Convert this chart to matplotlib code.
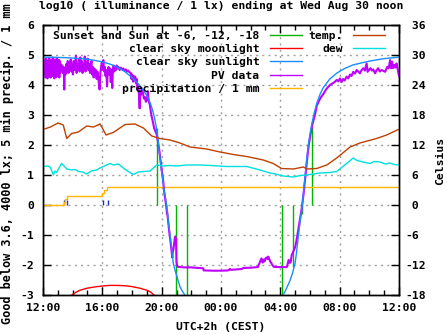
import matplotlib
matplotlib.use('Agg')
import matplotlib.pyplot as plt
from matplotlib.lines import Line2D
from matplotlib.ticker import MultipleLocator, FuncFormatter

# gnuplot-like bold monospace look
plt.rcParams['font.family'] = 'DejaVu Sans Mono'
plt.rcParams['font.weight'] = 'bold'
plt.rcParams['font.size'] = 8.2
plt.rcParams['axes.unicode_minus'] = False

# Axis ticks (hours after midnight of the first day)
tick_hours = [12, 16, 20, 24, 28, 32, 36]
tick_labels = ['12:00', '16:00', '20:00', '00:00', '04:00', '08:00', '12:00']
celsius_ticks = [-18, -12, -6, 0, 6, 12, 18, 24, 30, 36]

# PV data, log10(lx)
pv_data = [
    ('12:00', 4.70), ('12:02', 4.35), ('12:04', 4.85), ('12:06', 4.30), ('12:08', 4.80),
    ('12:10', 4.25), ('12:12', 4.88), ('12:14', 4.40), ('12:16', 4.75), ('12:18', 4.22),
    ('12:20', 4.82), ('12:22', 4.30), ('12:24', 4.90), ('12:26', 4.35), ('12:28', 4.78),
    ('12:30', 4.25), ('12:32', 4.85), ('12:34', 4.28), ('12:36', 4.80), ('12:38', 4.40),
    ('12:40', 4.92), ('12:42', 4.30), ('12:44', 4.75), ('12:46', 4.22), ('12:48', 4.85),
    ('12:50', 4.33), ('12:52', 4.80), ('12:54', 4.26), ('12:56', 4.88), ('12:58', 4.35),
    ('13:00', 4.78), ('13:02', 4.30), ('13:04', 4.84), ('13:06', 4.25), ('13:08', 4.80),
    ('13:10', 4.40), ('13:12', 4.70), ('13:15', 4.55), ('13:18', 4.65), ('13:21', 4.40),
    ('13:24', 4.60), ('13:26', 3.85), ('13:28', 4.50), ('13:31', 4.35), ('13:34', 4.70),
    ('13:37', 4.45), ('13:40', 4.80), ('13:43', 4.40), ('13:46', 4.75), ('13:49', 4.55),
    ('13:52', 4.85), ('13:55', 4.45), ('13:58', 4.70), ('14:01', 4.35), ('14:04', 4.80),
    ('14:07', 4.50), ('14:10', 4.75), ('14:13', 4.98), ('14:16', 4.40), ('14:19', 4.70),
    ('14:22', 4.55), ('14:25', 4.85), ('14:28', 4.45), ('14:31', 4.92), ('14:34', 4.50),
    ('14:37', 4.80), ('14:40', 4.40), ('14:43', 4.70), ('14:46', 4.55), ('14:49', 4.95),
    ('14:52', 4.45), ('14:55', 4.75), ('14:58', 4.60), ('15:01', 4.88), ('15:04', 4.50),
    ('15:07', 4.70), ('15:10', 4.40), ('15:13', 4.65), ('15:16', 4.80), ('15:19', 4.35),
    ('15:22', 4.60), ('15:25', 4.25), ('15:28', 4.55), ('15:31', 4.30), ('15:34', 4.50),
    ('15:37', 4.20), ('15:40', 4.45), ('15:43', 4.30), ('15:46', 4.05), ('15:49', 3.85),
    ('15:52', 4.40), ('15:55', 4.60), ('15:58', 4.75), ('16:01', 4.50), ('16:04', 4.83),
    ('16:07', 4.45), ('16:10', 4.60), ('16:13', 4.30), ('16:16', 4.50), ('16:19', 3.95),
    ('16:22', 4.45), ('16:25', 4.60), ('16:28', 4.35), ('16:31', 4.55), ('16:34', 4.10),
    ('16:37', 4.50), ('16:40', 3.90), ('16:43', 4.55), ('16:46', 4.65), ('16:49', 4.45),
    ('16:52', 4.60), ('16:55', 4.50), ('16:58', 4.65), ('17:01', 4.55), ('17:05', 4.60),
    ('17:10', 4.50), ('17:15', 4.58), ('17:20', 4.52), ('17:25', 4.55), ('17:30', 4.48),
    ('17:35', 4.52), ('17:40', 4.45), ('17:45', 4.48), ('17:50', 4.42), ('17:55', 4.40),
    ('17:58', 4.20), ('18:01', 4.35), ('18:04', 4.11), ('18:07', 4.30), ('18:10', 4.15),
    ('18:13', 4.28), ('18:16', 4.05), ('18:19', 4.20), ('18:22', 3.85), ('18:25', 3.95),
    ('18:28', 3.70), ('18:31', 3.22), ('18:33', 3.80), ('18:36', 3.67), ('18:40', 3.89),
    ('18:44', 3.75), ('18:48', 3.55), ('18:52', 3.60), ('18:56', 3.44), ('19:00', 3.50),
    ('19:04', 3.78), ('19:08', 3.44), ('19:12', 3.35), ('19:16', 3.11), ('19:20', 2.94),
    ('19:25', 2.75), ('19:30', 2.55), ('19:35', 2.45), ('19:40', 2.35), ('19:45', 2.10),
    ('19:50', 1.85), ('19:55', 1.50), ('20:00', 1.17), ('20:04', 0.95), ('20:07', 0.73),
    ('20:10', 0.45), ('20:13', 0.28), ('20:17', 0.05), ('20:20', -0.10), ('20:24', -0.35),
    ('20:27', -0.60), ('20:30', -0.85), ('20:34', -1.10), ('20:38', -1.40), ('20:41', -1.60),
    ('20:43', -1.75), ('20:45', -1.55), ('20:47', -1.50), ('20:50', -1.30), ('20:54', -1.06),
    ('20:58', -1.10), ('21:00', -1.90), ('21:02', -2.00), ('21:05', -2.06), ('21:30', -2.08),
    ('22:00', -2.08), ('22:30', -2.10), ('22:48', -2.11), ('22:50', -2.18), ('23:30', -2.19),
    ('00:00', -2.19), ('00:30', -2.18), ('00:36', -2.13), ('00:40', -2.16), ('01:00', -2.15),
    ('01:25', -2.13), ('01:30', -2.10), ('02:00', -2.09), ('02:29', -2.07), ('02:35', -1.95),
    ('02:40', -1.85), ('02:44', -1.78), ('02:48', -1.92), ('02:52', -1.82), ('02:56', -1.88),
    ('03:00', -1.78), ('03:04', -1.75), ('03:08', -1.80), ('03:11', -1.72), ('03:15', -1.80),
    ('03:19', -1.88), ('03:23', -1.93), ('03:28', -2.00), ('03:33', -2.06), ('04:00', -2.07),
    ('04:26', -2.07), ('04:30', -1.95), ('04:34', -1.83), ('04:38', -1.93), ('04:42', -1.90),
    ('04:46', -1.67), ('04:50', -1.60), ('04:55', -1.50), ('05:00', -1.40), ('05:05', -1.20),
    ('05:10', -0.95), ('05:15', -0.70), ('05:20', -0.45), ('05:25', -0.20), ('05:30', 0.10),
    ('05:35', 0.45), ('05:40', 0.85), ('05:45', 1.25), ('05:50', 1.65), ('05:55', 2.00),
    ('06:00', 2.25), ('06:05', 2.50), ('06:10', 2.70), ('06:15', 2.85), ('06:20', 3.00),
    ('06:27', 3.30), ('06:35', 3.45), ('06:45', 3.60), ('06:54', 3.70), ('07:05', 3.85),
    ('07:15', 3.95), ('07:21', 4.00), ('07:30', 4.05), ('07:40', 4.10), ('07:48', 4.17),
    ('07:55', 4.12), ('08:01', 4.22), ('08:08', 4.10), ('08:14', 4.20), ('08:20', 4.15),
    ('08:28', 4.28), ('08:35', 4.22), ('08:42', 4.35), ('08:48', 4.30), ('08:55', 4.44),
    ('09:02', 4.38), ('09:09', 4.50), ('09:15', 4.45), ('09:22', 4.39), ('09:29', 4.50),
    ('09:36', 4.56), ('09:42', 4.48), ('09:49', 4.72), ('09:53', 4.44), ('10:00', 4.52),
    ('10:05', 4.56), ('10:10', 4.48), ('10:16', 4.52), ('10:23', 4.39), ('10:30', 4.50),
    ('10:36', 4.56), ('10:42', 4.45), ('10:50', 4.50), ('10:57', 4.47), ('11:04', 4.44),
    ('11:08', 4.52), ('11:13', 4.61), ('11:18', 4.55), ('11:24', 4.83), ('11:28', 4.56),
    ('11:32', 4.78), ('11:36', 4.56), ('11:41', 4.67), ('11:45', 4.58), ('11:50', 4.72),
    ('11:55', 4.50), ('12:00', 4.30),
]

# clear sky sunlight model, log10(lx)
sun_data = [
    ('12:00', 4.93), ('13:00', 4.92), ('14:00', 4.90), ('15:00', 4.86), ('15:30', 4.82),
    ('16:00', 4.77), ('16:30', 4.70), ('17:00', 4.60), ('17:30', 4.45), ('18:00', 4.25),
    ('18:15', 4.13), ('18:30', 4.00), ('18:45', 3.83), ('19:00', 3.65), ('19:10', 3.48),
    ('19:20', 3.25), ('19:30', 2.95), ('19:38', 2.60), ('19:45', 2.20), ('19:52', 1.65),
    ('20:00', 1.10), ('20:10', 0.50), ('20:20', 0.00), ('20:30', -0.75), ('20:40', -1.45),
    ('20:47', -1.94), ('20:55', -2.20), ('21:05', -2.48), ('21:14', -2.72), ('21:24', -2.88),
    ('21:34', -3.00), ('21:45', -3.20),
    ('04:00', -3.20), ('04:12', -3.00), ('04:25', -2.78), ('04:40', -2.50), ('04:50', -2.25),
    ('05:00', -1.93), ('05:06', -1.55), ('05:12', -1.10), ('05:20', -0.55), ('05:28', -0.07),
    ('05:34', 0.45), ('05:40', 0.93), ('05:46', 1.45), ('05:52', 1.93), ('06:00', 2.35),
    ('06:08', 2.73), ('06:18', 3.10), ('06:28', 3.40), ('06:40', 3.68), ('06:53', 3.90),
    ('07:20', 4.20), ('07:49', 4.40), ('08:20', 4.55), ('08:54', 4.67), ('09:30', 4.74),
    ('10:03', 4.80), ('11:00', 4.88), ('12:00', 4.93),
]

# clear sky moonlight model, log10(lx)
moon_data = [
    ('13:57', -3.00), ('14:15', -2.90), ('14:30', -2.84), ('15:00', -2.77), ('15:30', -2.73),
    ('16:00', -2.70), ('16:30', -2.68), ('17:00', -2.68), ('17:30', -2.69), ('18:00', -2.72),
    ('18:30', -2.77), ('19:00', -2.84), ('19:15', -2.90), ('19:29', -3.00),
]

# sunset / sunrise and sun at -6, -12, -18 degrees: (time, line end)
sun_events = [
    ('19:43', 2.57), ('20:19', -0.3), ('20:57', -3.0), ('21:44', -3.0),
    ('04:07', -3.0), ('04:53', -2.06), ('05:27', -0.3), ('06:07', 2.60),
]

# cumulative precipitation / 1 mm
precip_data = [
    ('12:00', 0.0), ('13:22', 0.0), ('13:25', 0.1), ('13:30', 0.2), ('13:36', 0.3),
    ('15:51', 0.3), ('15:58', 0.4), ('16:05', 0.5), ('16:19', 0.6), ('12:00', 0.6),
]

# 5 min precipitation bars
rain5_data = [('13:25', 0.17), ('13:38', 0.17), ('16:04', 0.17), ('16:24', 0.17)]

# temperature and dew point, Celsius
temp_data = [
    ('12:00', 15.1), ('12:30', 15.6), ('13:01', 16.4), ('13:22', 16.0), ('13:36', 13.3),
    ('13:56', 14.3), ('14:23', 14.6), ('14:57', 15.8), ('15:24', 15.6), ('15:51', 16.2),
    ('16:15', 14.0), ('16:44', 14.5), ('17:32', 16.1), ('18:12', 16.2), ('18:46', 15.4),
    ('19:20', 13.8), ('19:53', 13.3), ('20:34', 13.0), ('21:14', 12.4), ('21:55', 11.6),
    ('23:02', 11.2), ('23:56', 10.6), ('00:50', 10.1), ('01:44', 9.7), ('02:51', 9.0),
    ('03:31', 8.3), ('04:05', 7.3), ('04:53', 7.2), ('05:33', 7.6), ('05:47', 7.2),
    ('06:27', 7.3), ('07:08', 8.0), ('07:48', 9.4), ('08:42', 11.6), ('09:22', 12.4),
    ('10:29', 13.3), ('11:10', 14.0), ('11:57', 15.1),
]

dew_data = [
    ('12:00', 7.7), ('12:20', 7.8), ('12:30', 7.5), ('12:42', 6.0), ('12:48', 6.8),
    ('12:55', 6.5), ('13:05', 7.4), ('13:15', 8.3), ('13:25', 7.8), ('13:36', 7.2),
    ('13:56', 7.0), ('14:10', 7.1), ('14:23', 6.7), ('14:40', 6.6), ('14:57', 6.2),
    ('15:15', 6.8), ('15:37', 7.0), ('15:50', 7.4), ('16:04', 7.7), ('16:31', 8.3),
    ('16:45', 8.0), ('17:05', 8.2), ('17:25', 7.4), ('17:45', 6.7), ('18:05', 6.1),
    ('18:25', 6.6), ('18:46', 6.7), ('19:13', 6.8), ('19:40', 8.0), ('20:07', 7.8),
    ('20:30', 7.9), ('21:00', 7.8), ('21:40', 8.0), ('22:35', 8.0), ('23:20', 7.9),
    ('00:23', 7.7), ('01:44', 7.7), ('02:38', 7.0), ('03:18', 6.4), ('03:40', 6.2),
    ('04:12', 5.8), ('04:53', 5.6), ('05:20', 5.9), ('05:47', 6.0), ('06:40', 6.4),
    ('07:20', 6.5), ('07:48', 6.7), ('08:10', 7.6), ('08:28', 8.3), ('08:55', 9.4),
    ('09:10', 8.9), ('09:35', 8.6), ('10:02', 8.3), ('10:20', 8.7), ('10:43', 8.6),
    ('11:05', 8.2), ('11:23', 8.4), ('11:40', 8.1), ('11:57', 8.0),
]


def to_hours(times):
    # "HH:MM" -> hours after first midnight, rolling over to the next day
    out, day, prev = [], 0, -1
    for t in times:
        h, m = t.split(':')
        v = int(h) + int(m) / 60.0 + day
        if v < prev:
            day += 24
            v += 24
        out.append(v)
        prev = v
    return out


def split(data):
    t, v = zip(*data)
    return to_hours(t), list(v)


pv_x, pv_y = split(pv_data)
sun_x, sun_y = split(sun_data)
moon_x, moon_y = split(moon_data)
ev_x, ev_y = split(sun_events)
pr_x, pr_y = split(precip_data)
r5_x, r5_y = split(rain5_data)
temp_x, temp_y = split(temp_data)
dew_x, dew_y = split(dew_data)

# Colours
c_sun_ev = '#00b400'
c_moon = '#ff0000'
c_sun = '#1a8cff'
c_pv = '#c000ff'
c_precip = '#ffb400'
c_rain5 = '#2030c0'
c_temp = '#c04000'
c_dew = '#00e0e0'

fig = plt.figure(figsize=(4.47, 3.35), dpi=100)
ax = fig.add_axes([43 / 447, 40 / 335, 356 / 447, 270 / 335])

ax.grid(True, which='major', color='#a0a0a0', linestyle=(0, (1.5, 3)), linewidth=1.0)
ax.set_axisbelow(True)

# green vertical lines from 0
ax.vlines(ev_x, 0, ev_y, color=c_sun_ev, linewidth=1.0, zorder=2)
ax.vlines(r5_x, 0, r5_y, color=c_rain5, linewidth=1.0, zorder=2)
ax.plot(pr_x, pr_y, color=c_precip, linewidth=1.0, drawstyle='steps-post', zorder=2)
ax.plot(moon_x, moon_y, color=c_moon, linewidth=1.0, zorder=2)
ax.plot(pv_x, pv_y, color=c_pv, linewidth=1.5, zorder=3)
ax.plot(sun_x, sun_y, color=c_sun, linewidth=1.0, zorder=4)

ax.set_xlim(12, 36)
ax.set_ylim(-3, 6)
ax.set_xticks(tick_hours)
ax.set_xticklabels(tick_labels)
ax.xaxis.set_minor_locator(MultipleLocator(1))
ax.set_yticks(range(-3, 7))
ax.tick_params(which='both', direction='in', top=True, right=False)
ax.tick_params(which='major', length=6, width=1)
ax.tick_params(which='minor', length=3.5, width=1)
ax.tick_params(axis='x', pad=6)
ax.tick_params(axis='y', pad=6.5)

# right axis: temperature
ax2 = ax.twinx()
ax2.plot(temp_x, temp_y, color=c_temp, linewidth=1.0)
ax2.plot(dew_x, dew_y, color=c_dew, linewidth=1.0)
ax2.set_ylim(-18, 36)
ax2.set_yticks(celsius_ticks)
ax2.yaxis.set_major_formatter(FuncFormatter(lambda v, p: '% d' % v))
ax2.tick_params(direction='in', length=6, width=1, pad=4.3)

for a in (ax, ax2):
    for s in a.spines.values():
        s.set_linewidth(1.0)

# gnuplot style legend: text right aligned, then sample line
handles = [
    Line2D([], [], color=c_sun_ev, linewidth=1.0),
    Line2D([], [], color=c_moon, linewidth=1.0),
    Line2D([], [], color=c_sun, linewidth=1.0),
    Line2D([], [], color=c_pv, linewidth=1.0),
    Line2D([], [], color=c_precip, linewidth=1.0),
    Line2D([], [], color=c_temp, linewidth=1.0),
    Line2D([], [], color=c_dew, linewidth=1.0),
    Line2D([], [], color='none'),
    Line2D([], [], color='none'),
    Line2D([], [], color='none'),
]
labels = ['Sunset and Sun at -6, -12, -18', 'clear sky moonlight', 'clear sky sunlight',
          'PV data', 'precipitation / 1 mm', 'temp.', 'dew', '', '', '']
ax2.legend(handles, labels, ncol=2, loc='upper right',
           bbox_to_anchor=(1 - 14 / 356, 1 - 6 / 270), frameon=False,
           markerfirst=False, handlelength=2.8, handletextpad=0.9,
           columnspacing=0.6, labelspacing=0.28, borderpad=0, borderaxespad=0)

fig.text(221 / 447, 1 - 6 / 335, 'log10 ( illuminance / 1 lx) ending at Wed Aug 30 noon',
         ha='center', va='center')
fig.text(7 / 447, 1 - 164 / 335, 'Good below 3.6, 4000 lx; 5 min precip. / 1 mm',
         rotation=90, ha='center', va='center', fontsize=8.6)
fig.text(440 / 447, 1 - 161 / 335, 'Celsius', rotation=90, ha='center', va='center')
fig.text(221 / 447, 1 - 327 / 335, 'UTC+2h (CEST)', ha='center', va='center')

fig.savefig('out.png', dpi=100)
